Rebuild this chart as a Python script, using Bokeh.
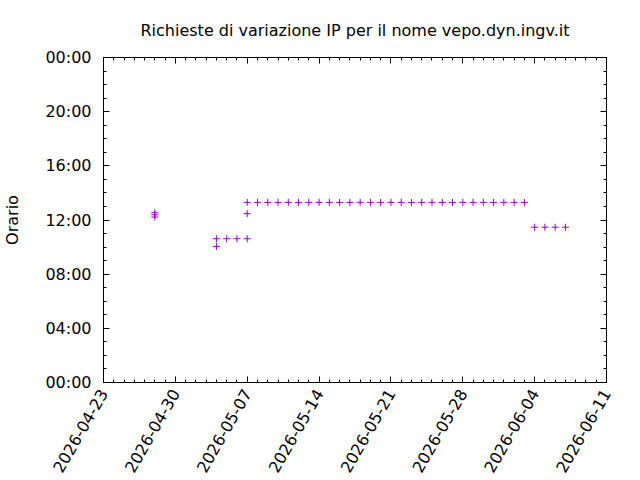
import math
import pandas as pd
from bokeh.plotting import figure
from bokeh.models import (FixedTicker, DatetimeAxis, LinearAxis, DatetimeTickFormatter,
                          Range1d, ColumnDataSource, CustomJSTickFormatter)
from bokeh.embed import file_html
from bokeh.resources import INLINE

# ---- data ----
dates = (["2026-04-28"] * 3 + ["2026-05-04"] * 2 + ["2026-05-05", "2026-05-06", "2026-05-07"]
         + ["2026-05-07"]
         + ["2026-05-07", "2026-05-08", "2026-05-09", "2026-05-10", "2026-05-11", "2026-05-12",
            "2026-05-13", "2026-05-14", "2026-05-15", "2026-05-16", "2026-05-17", "2026-05-18",
            "2026-05-19", "2026-05-20", "2026-05-21", "2026-05-22", "2026-05-23", "2026-05-24",
            "2026-05-25", "2026-05-26", "2026-05-27", "2026-05-28", "2026-05-29", "2026-05-30",
            "2026-05-31", "2026-06-01", "2026-06-02", "2026-06-03"]
         + ["2026-06-04", "2026-06-05", "2026-06-06", "2026-06-07"])
times = (["12:32", "12:23", "12:13"] + ["10:37", "10:03"] + ["10:37", "10:37", "10:37"]
         + ["12:28"]
         + ["13:18"] * 28
         + ["11:28"] * 4)

x_tick_labels = ["2026-04-23", "2026-04-30", "2026-05-07", "2026-05-14", "2026-05-21",
                 "2026-05-28", "2026-06-04", "2026-06-11"]
y_tick_values = [0, 4, 8, 12, 16, 20, 24]
y_tick_labels = ["00:00", "04:00", "08:00", "12:00", "16:00", "20:00", "00:00"]

title_text = "Richieste di variazione IP per il nome vepo.dyn.ingv.it"
y_label = "Orario"

# ---- build ----
x_vals = pd.to_datetime(dates)
hours = [int(t.split(":")[0]) + int(t.split(":")[1]) / 60.0 for t in times]
src = ColumnDataSource(dict(x=x_vals, y=hours))

def ms(s):
    return pd.Timestamp(s).value / 1e6

x_major = [ms(s) for s in x_tick_labels]
day_ms = 86400000.0
x_minor = [x_major[0] + i * day_ms for i in range(int((x_major[-1] - x_major[0]) / day_ms) + 1)]

FONT = "DejaVu Sans"
FS = "16px"

p = figure(width=640, height=480, x_axis_type="datetime", output_backend="svg",
           toolbar_location=None,
           x_range=Range1d(x_major[0], x_major[-1]), y_range=Range1d(0, 24),
           min_border_left=101, min_border_right=34, min_border_top=57, min_border_bottom=97)
p.background_fill_color = "white"
p.border_fill_color = "white"
p.outline_line_color = "black"
p.outline_line_width = 1
p.xgrid.visible = False
p.ygrid.visible = False

p.title.text = title_text
p.title.align = "center"
p.title.text_font = FONT
p.title.text_font_size = FS
p.title.text_font_style = "normal"
p.title.text_color = "black"
p.title.standoff = 36

xt = FixedTicker(ticks=x_major, minor_ticks=x_minor)
yt = FixedTicker(ticks=y_tick_values, minor_ticks=list(range(0, 25)))
overrides = {v: l for v, l in zip(y_tick_values, y_tick_labels)}

def style(ax):
    ax.axis_line_color = None
    ax.major_tick_in = 6
    ax.major_tick_out = 0
    ax.minor_tick_in = 3
    ax.minor_tick_out = 0
    ax.major_tick_line_color = "black"
    ax.minor_tick_line_color = "black"
    ax.major_label_text_font = FONT
    ax.major_label_text_color = "black"
    ax.major_label_text_font_size = FS

xa = p.xaxis[0]
xa.ticker = xt
xa.formatter = DatetimeTickFormatter(days="%Y-%m-%d", months="%Y-%m-%d", hours="%Y-%m-%d")
style(xa)
xa.major_label_orientation = math.pi / 3
xa.major_label_standoff = 8

ya = p.yaxis[0]
ya.ticker = yt
ya.major_label_overrides = overrides
style(ya)
ya.major_label_standoff = 12
ya.axis_label = y_label
ya.axis_label_text_font = FONT
ya.axis_label_text_font_size = FS
ya.axis_label_text_font_style = "normal"
ya.axis_label_text_color = "black"
ya.axis_label_standoff = 20

blank = CustomJSTickFormatter(code="return '';")
top = DatetimeAxis(ticker=xt, formatter=blank)
style(top)
top.major_label_standoff = 0
p.add_layout(top, "above")
right = LinearAxis(ticker=yt, formatter=CustomJSTickFormatter(code="return '';"))
style(right)
right.major_label_standoff = 0
p.add_layout(right, "right")

p.scatter("x", "y", source=src, marker="cross", size=7, line_color="#9400D3", line_width=1)

open("out.html", "w").write(file_html(p, INLINE))
